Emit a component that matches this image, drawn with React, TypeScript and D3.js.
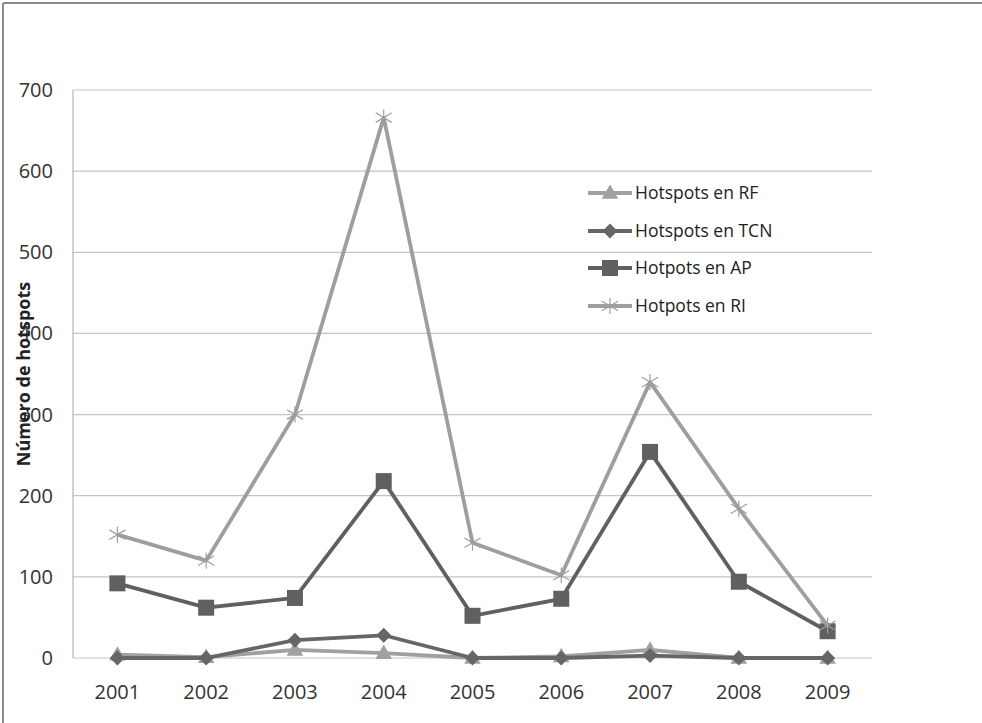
import React from "react";
import * as d3 from "d3";

const years = ["2001", "2002", "2003", "2004", "2005", "2006", "2007", "2008", "2009"];
const rfValues = [4, 1, 10, 6, 0, 2, 10, 0, 0];
const tcnValues = [0, 0, 22, 28, 0, 0, 3, 0, 0];
const apValues = [92, 62, 74, 218, 52, 73, 254, 94, 33];
const riValues = [152, 120, 300, 666, 142, 102, 340, 184, 40];
const yTicks = [0, 100, 200, 300, 400, 500, 600, 700];

const seriesNames = ["Hotspots en RF", "Hotspots en TCN", "Hotpots en AP", "Hotpots en RI"];

const W = 982;
const H = 723;
const M = { left: 73, right: 110, top: 90, bottom: 65 };
const FONT = "'Open Sans', sans-serif";

type Shape = "triangle" | "diamond" | "square" | "star";

function Marker({ x, y, shape, color }: { x: number; y: number; shape: Shape; color: string }) {
  if (shape === "triangle") {
    const p = d3.symbol(d3.symbolTriangle, 120)();
    return <path d={p || ""} transform={`translate(${x},${y + 1})`} fill={color} />;
  }
  if (shape === "diamond") {
    const s = 7.5;
    return <path d={`M${x},${y - s}L${x + s},${y}L${x},${y + s}L${x - s},${y}Z`} fill={color} />;
  }
  if (shape === "square") {
    return <rect x={x - 8} y={y - 8} width={16} height={16} fill={color} />;
  }
  const r = 8;
  return (
    <g stroke={color} strokeWidth={1.2}>
      <line x1={x - r} y1={y - r * 0.6} x2={x + r} y2={y + r * 0.6} />
      <line x1={x - r} y1={y + r * 0.6} x2={x + r} y2={y - r * 0.6} />
      <line x1={x} y1={y - r} x2={x} y2={y + r} />
    </g>
  );
}

export default function App() {
  const x = d3.scaleBand<string>().domain(years).range([M.left, W - M.right]);
  const y = d3.scaleLinear().domain([0, 700]).range([H - M.bottom, M.top]);
  const cx = (yr: string) => (x(yr) as number) + x.bandwidth() / 2;

  const series = [
    { name: seriesNames[0], values: rfValues, color: "#a0a0a0", shape: "triangle" as Shape },
    { name: seriesNames[1], values: tcnValues, color: "#666666", shape: "diamond" as Shape },
    { name: seriesNames[2], values: apValues, color: "#606060", shape: "square" as Shape },
    { name: seriesNames[3], values: riValues, color: "#9e9e9e", shape: "star" as Shape },
  ];

  const line = d3
    .line<number>()
    .x((_, i) => cx(years[i]))
    .y((d) => y(d));

  const legendX = 588;
  const legendY = [193, 231, 268, 306];

  return (
    <svg
      width={W}
      height={H}
      style={{ position: "absolute", left: 0, top: 0, background: "#fff" }}
      fontFamily={FONT}
    >
      <rect x={0} y={0} width={W} height={H} fill="#fff" />
      <line x1={3} y1={3} x2={W} y2={3} stroke="#8a8a8a" strokeWidth={2} />
      <line x1={3} y1={3} x2={3} y2={H} stroke="#8a8a8a" strokeWidth={2} />

      {yTicks.map((t) => (
        <g key={t}>
          <line x1={M.left} x2={W - M.right} y1={y(t)} y2={y(t)} stroke="#c3c3c3" strokeWidth={1.2} />
          <text x={53} y={y(t)} dy="0.35em" textAnchor="end" fontSize={20} fill="#333">
            {t}
          </text>
        </g>
      ))}
      <line x1={M.left} x2={M.left} y1={M.top} y2={H - M.bottom} stroke="#b5b5b5" strokeWidth={1.2} />

      {years.map((yr) => (
        <text key={yr} x={cx(yr)} y={692} dy="0.35em" textAnchor="middle" fontSize={20} fill="#333">
          {yr}
        </text>
      ))}

      <text
        transform={`translate(24,${(M.top + H - M.bottom) / 2}) rotate(-90)`}
        textAnchor="middle"
        dy="0.35em"
        fontSize={18}
        fontWeight="bold"
        fill="#222"
      >
        Número de hotspots
      </text>

      {series.map((s) => (
        <g key={s.name}>
          <path d={line(s.values) || ""} fill="none" stroke={s.color} strokeWidth={3.8} strokeLinejoin="round" />
          {s.values.map((v, i) => (
            <Marker key={i} x={cx(years[i])} y={y(v)} shape={s.shape} color={s.color} />
          ))}
        </g>
      ))}

      {series.map((s, i) => (
        <g key={"lg" + s.name}>
          <line x1={legendX} x2={legendX + 44} y1={legendY[i]} y2={legendY[i]} stroke={s.color} strokeWidth={3.8} />
          <Marker x={legendX + 22} y={legendY[i]} shape={s.shape} color={s.color} />
          <text x={legendX + 47} y={legendY[i]} dy="0.35em" fontSize={17.5} fill="#222">
            {s.name}
          </text>
        </g>
      ))}
    </svg>
  );
}
